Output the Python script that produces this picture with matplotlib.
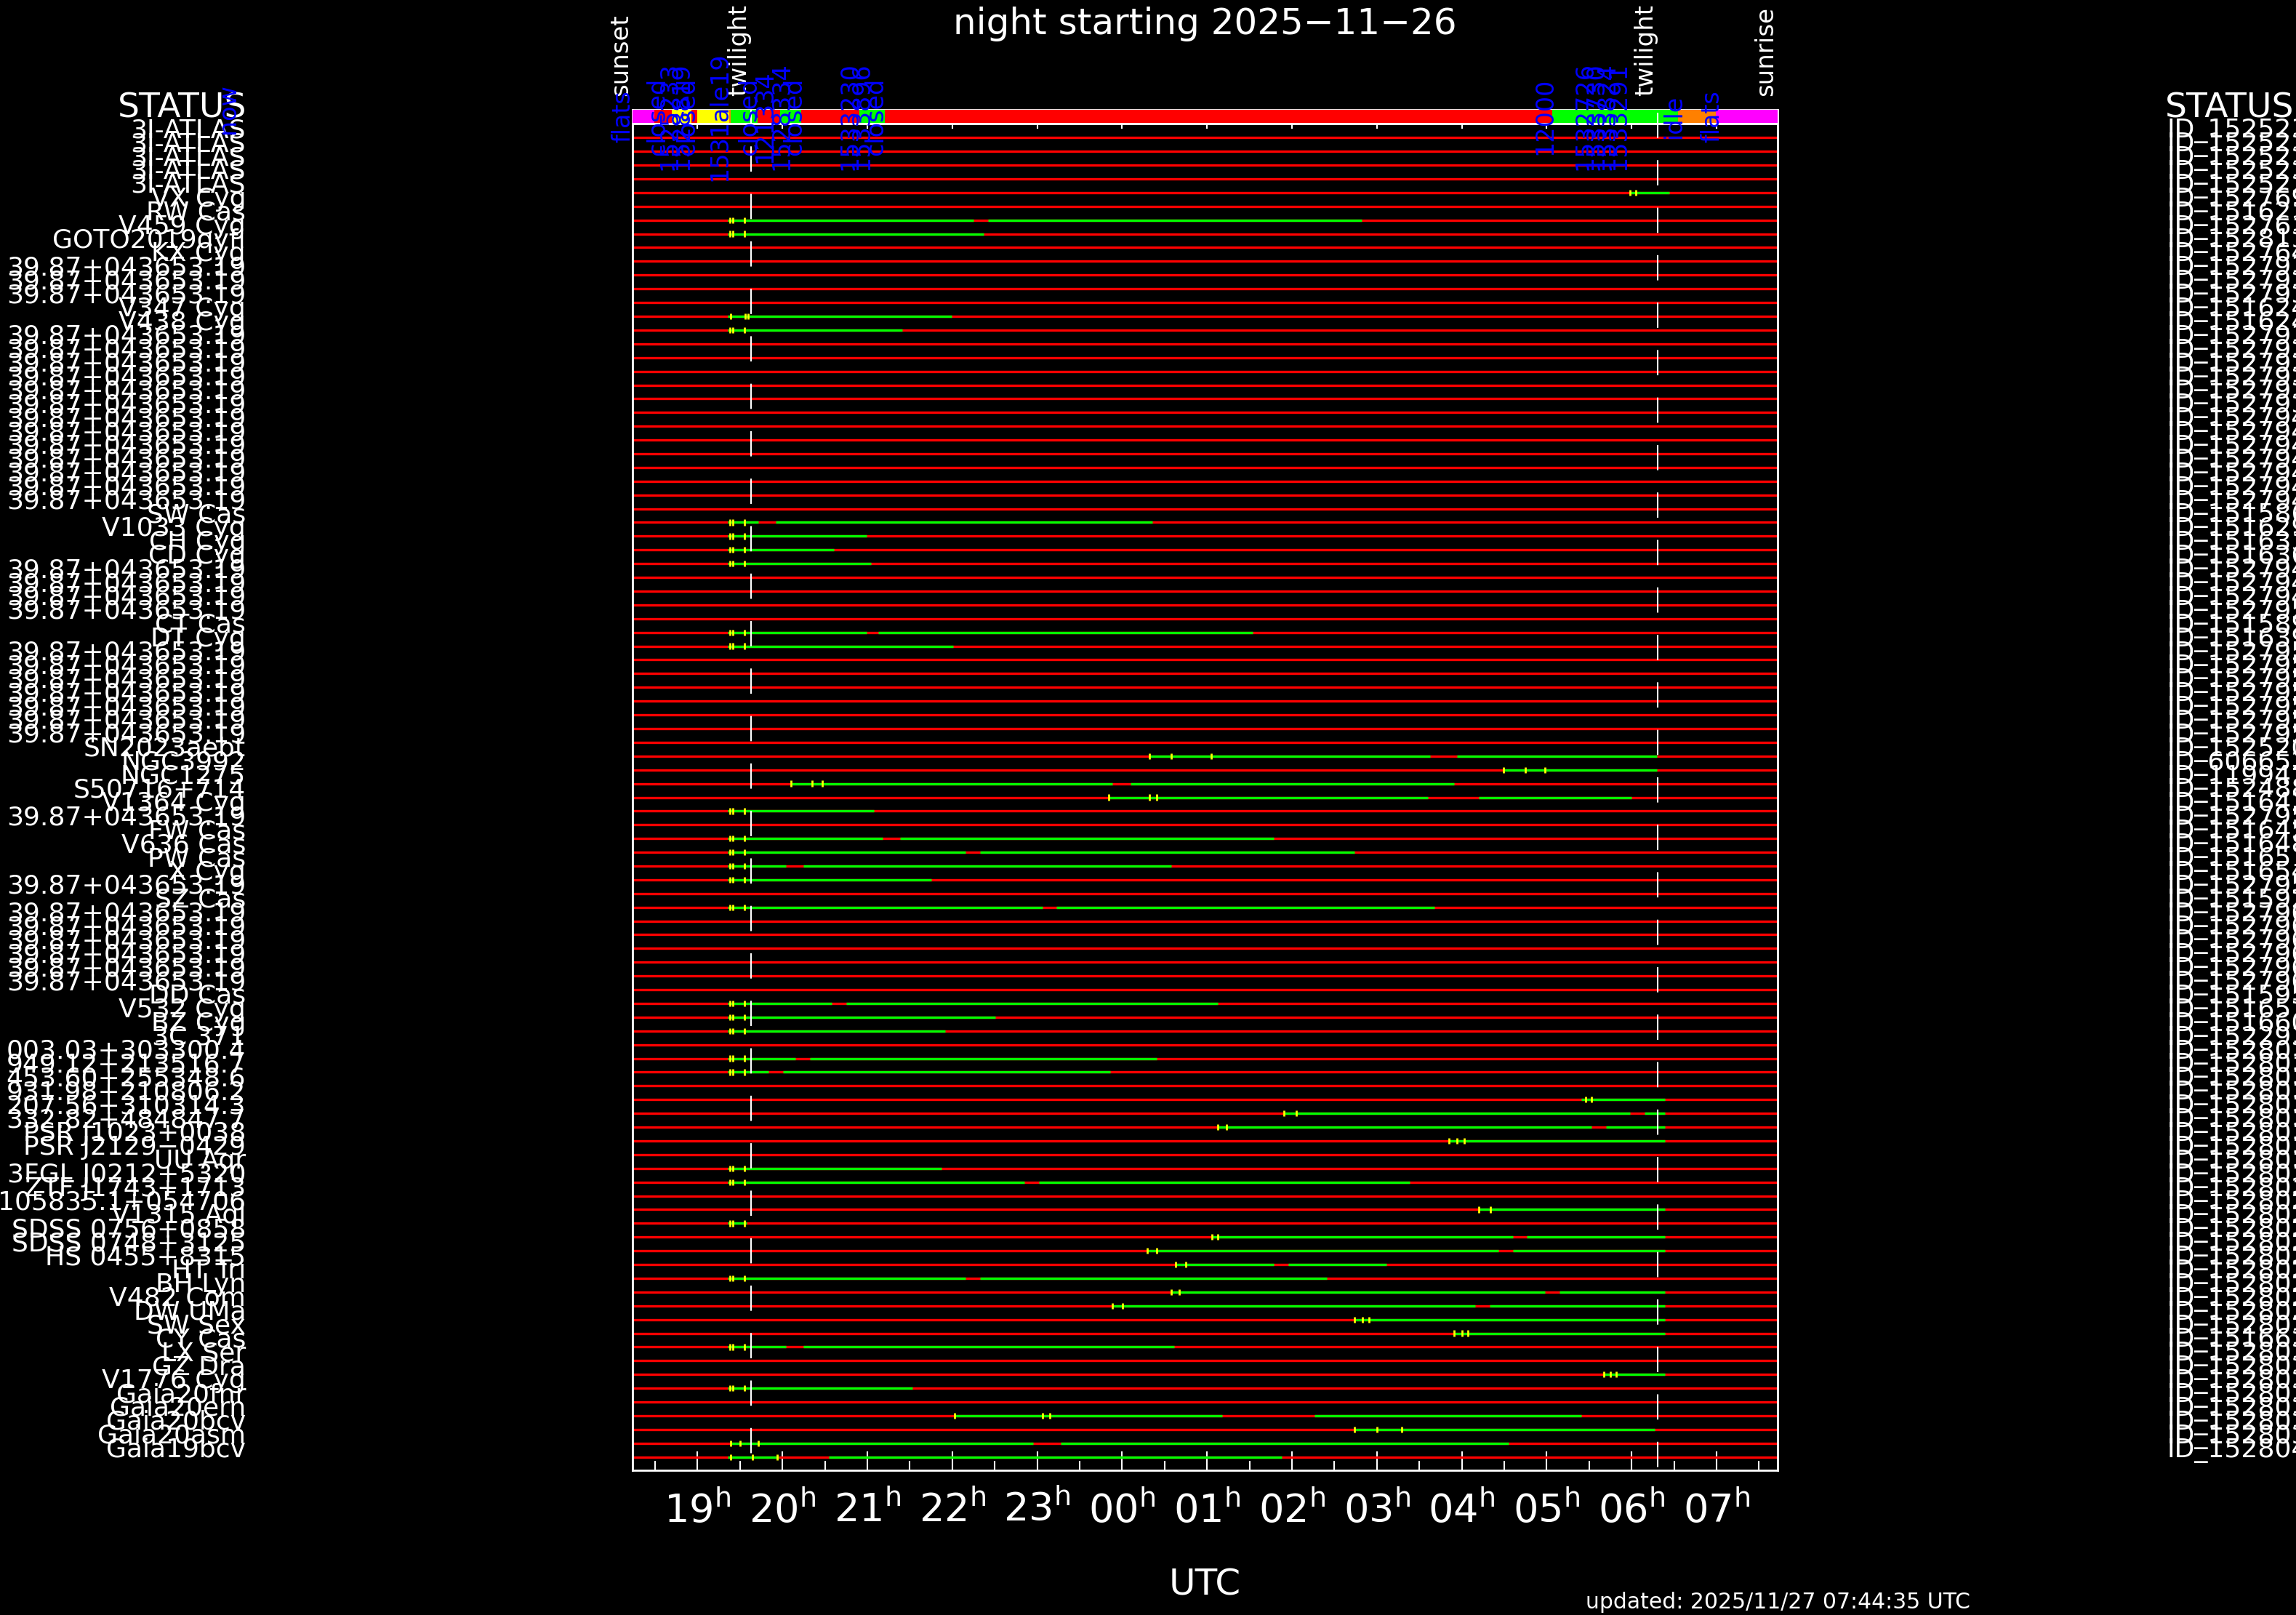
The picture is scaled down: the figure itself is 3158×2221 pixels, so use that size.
import matplotlib
matplotlib.use("Agg")
import matplotlib.pyplot as plt
import matplotlib.transforms as mtransforms

plt.rcParams['font.family'] = ['DejaVu Sans']
plt.rcParams['lines.scale_dashes'] = False
plt.rcParams['mathtext.default'] = 'regular'

# ---- night (hours UTC, values above 24 are after midnight) ----
t_sunset = 18.235
t_sunrise = 31.72
t_twilight_eve = 19.63
t_twilight_morn = 30.31
hour_ticks = [19, 20, 21, 22, 23, 24, 25, 26, 27, 28, 29, 30, 31]
hour_labels = ['19', '20', '21', '22', '23', '00', '01', '02', '03', '04', '05', '06', '07']
half_ticks = [18.5, 19.5, 20.5, 21.5, 22.5, 23.5, 24.5, 25.5, 26.5, 27.5, 28.5, 29.5, 30.5, 31.5]

# ---- telescope status bar ----
bar_start = [18.235, 18.49, 18.70, 18.93, 19.00, 19.37, 19.39, 19.71, 19.97, 20.22, 20.91, 21.21, 29.07, 30.55, 30.99]
bar_end = [18.49, 18.70, 18.93, 19.00, 19.37, 19.39, 19.71, 19.97, 20.22, 20.91, 21.21, 29.07, 30.55, 30.99, 31.72]
bar_color = ['#ff00ff', '#ff0000', '#ffff00', '#ff0000', '#ffff00', '#ff8000', '#00ff00', '#ff0000',
             '#00ff00', '#ff0000', '#00ff00', '#ff0000', '#00ff00', '#ff8000', '#ff00ff']

note_times = [18.12, 18.53, 18.67, 18.81, 18.88, 19.26, 19.61, 19.79, 19.99, 20.14,
              20.79, 20.93, 21.10, 28.98, 29.45, 29.58, 29.71, 29.84, 30.50, 30.95]
note_texts = ['flats', 'closed', '1525233', '1528819', 'closed', '1531ale19', 'closed', '121334',
              '1528334', 'closed', '1533230', '1533896', 'closed', '12000', '1532726', '1533730',
              '1533824', '1533291', 'idle', 'flats']

c39 = '39.87+043653.19'
targets = (['3I-ATLAS'] * 5 +
           ['VX Cyg', 'RW Cas', 'V459 Cyg', 'GOTO2019qyfi', 'KX Cyg'] +
           [c39] * 3 + ['V347 Cyg', 'V438 Cyg'] + [c39] * 13 +
           ['SW Cas', 'V1033 Cyg', 'CH Cyg', 'CD Cyg'] + [c39] * 4 +
           ['CT Cas', 'DT Cyg'] + [c39] * 7 +
           ['SN2023aebt', 'NGC3992', 'NGC1275', 'S50716+714', 'V1364 Cyg', c39,
            'FW Cas', 'V636 Cas', 'PW Cas', 'X Cyg', c39, 'SZ Cas'] + [c39] * 6 +
           ['DD Cas', 'V532 Cyg', 'BZ Cyg', '3C 371', '003.03+303300.4', '949.12+213516.7',
            '453.60+255348.6', '931.98+210806.2', '207.56+310314.3', '332.82+484847.7',
            'PSR J1023+0038', 'PSR J2129\u22120429', 'UU Aqr', '3FGL J0212+5320', 'ZTF J1743+1713',
            '105835.1+054706', 'V1315 Aql', 'SDSS 0756+0858', 'SDSS 0748+3125', 'HS 0455+8315',
            'HT Tri', 'BH Lyn', 'V482 Com', 'DW UMa', 'SW Sex', 'CY Cas', 'LX Ser', 'GZ Dra',
            'V1776 Cyg', 'Gaia20fnr', 'Gaia20ern', 'Gaia20bcv', 'Gaia20asm', 'Gaia19bcv'])

program_ids = [
    'ID_1525232', 'ID_1525233', 'ID_1525234', 'ID_1525235', 'ID_1525236',
    'ID_1527690', 'ID_1516210', 'ID_1527630', 'ID_1528130', 'ID_1527641',
    'ID_1527931', 'ID_1527932', 'ID_1527933', 'ID_1516240', 'ID_1516241',
    'ID_1527934', 'ID_1527935', 'ID_1527936', 'ID_1527937', 'ID_1527938',
    'ID_1527939', 'ID_1527940', 'ID_1527941', 'ID_1527942', 'ID_1527943',
    'ID_1527944', 'ID_1527945', 'ID_1527946', 'ID_1515860', 'ID_1516290',
    'ID_1516330', 'ID_1516360', 'ID_1527947', 'ID_1527948', 'ID_1527949',
    'ID_1527950', 'ID_1515890', 'ID_1516390', 'ID_1527951', 'ID_1527952',
    'ID_1527953', 'ID_1527954', 'ID_1527955', 'ID_1527956', 'ID_1527957',
    'ID_1525203', 'ID_6066524', 'ID_1199470', 'ID_1524880', 'ID_1516420',
    'ID_1527958', 'ID_1516450', 'ID_1516480', 'ID_1516510', 'ID_1516540',
    'ID_1527959', 'ID_1515920', 'ID_1527960', 'ID_1527961', 'ID_1527962',
    'ID_1527963', 'ID_1527964', 'ID_1527965', 'ID_1515950', 'ID_1516570',
    'ID_1516600', 'ID_1522930', 'ID_1528010', 'ID_1528011', 'ID_1528012',
    'ID_1528013', 'ID_1528014', 'ID_1528015', 'ID_1528016', 'ID_1528017',
    'ID_1528018', 'ID_1528019', 'ID_1528020', 'ID_1528021', 'ID_1528022',
    'ID_1528023', 'ID_1528024', 'ID_1528025', 'ID_1528026', 'ID_1528027',
    'ID_1528028', 'ID_1528029', 'ID_1528030', 'ID_1516630', 'ID_1528031',
    'ID_1528032', 'ID_1528033', 'ID_1528034', 'ID_1528035', 'ID_1528036',
    'ID_1528037', 'ID_1528042']

# observable windows (row, start, end) in hours UTC
green_windows = [
    (4, 29.98, 30.44),
    (6, 19.36, 22.25), (6, 22.42, 26.82),
    (7, 19.36, 22.37),
    (13, 19.36, 21.99),
    (14, 19.36, 21.41),
    (28, 19.36, 19.72), (28, 19.92, 24.36),
    (29, 19.36, 20.99),
    (30, 19.36, 20.61),
    (31, 19.36, 21.04),
    (36, 19.36, 20.99), (36, 21.13, 25.54),
    (37, 19.36, 22.01),
    (45, 24.32, 27.63), (45, 27.94, 30.30),
    (46, 28.49, 30.30),
    (47, 20.10, 23.89), (47, 24.10, 27.91),
    (48, 23.84, 27.60), (48, 28.20, 30.00),
    (49, 19.36, 21.08),
    (51, 19.36, 21.18), (51, 21.39, 25.79),
    (52, 19.36, 22.16), (52, 22.33, 26.74),
    (53, 19.36, 20.04), (53, 20.25, 24.58),
    (54, 19.36, 21.75),
    (56, 19.36, 23.06), (56, 23.23, 27.68),
    (63, 19.36, 20.58), (63, 20.75, 25.13),
    (64, 19.36, 22.51),
    (65, 19.36, 21.92),
    (67, 19.36, 20.15), (67, 20.32, 24.41),
    (68, 19.36, 19.84), (68, 20.01, 23.86),
    (70, 29.41, 30.39),
    (71, 25.91, 29.98), (71, 30.15, 30.39),
    (72, 25.13, 29.53), (72, 29.70, 30.39),
    (73, 27.85, 30.39),
    (75, 19.36, 21.87),
    (76, 19.36, 22.85), (76, 23.02, 27.39),
    (78, 28.20, 30.39),
    (79, 19.36, 19.58),
    (80, 25.06, 28.60), (80, 28.77, 30.39),
    (81, 24.30, 28.43), (81, 28.60, 30.39),
    (82, 24.63, 25.79), (82, 25.96, 27.11),
    (83, 19.36, 22.16), (83, 22.33, 26.41),
    (84, 24.58, 28.98), (84, 29.15, 30.39),
    (85, 23.89, 28.16), (85, 28.33, 30.39),
    (86, 26.74, 30.39),
    (87, 27.91, 30.39),
    (88, 19.36, 20.04), (88, 20.25, 24.61),
    (90, 29.67, 30.39),
    (91, 19.36, 21.53),
    (93, 22.03, 25.18), (93, 26.27, 29.41),
    (94, 26.74, 30.27),
    (95, 19.39, 22.95), (95, 23.28, 28.55),
    (96, 19.36, 19.96), (96, 20.55, 25.88),
]

# exposure marks (row, times)
early = [19.38, 19.42, 19.55]
yellow_marks = [
    (4, [29.98, 30.05]), (6, early), (7, early), (13, [19.39, 19.56, 19.60]), (14, early),
    (28, early), (29, early), (30, early), (31, early), (36, early), (37, early),
    (45, [24.32, 24.58, 25.05]), (46, [28.49, 28.75, 28.98]), (47, [20.10, 20.35, 20.47]),
    (48, [23.84, 24.32, 24.41]), (49, early), (51, early), (52, early), (53, early),
    (54, early), (56, early), (63, early), (64, early), (65, early), (67, early), (68, early),
    (70, [29.46, 29.53]), (71, [25.91, 26.05]), (72, [25.13, 25.23]), (73, [27.85, 27.94, 28.03]),
    (75, early), (76, early), (78, [28.20, 28.34]), (79, early), (80, [25.06, 25.13]),
    (81, [24.30, 24.41]), (82, [24.63, 24.75]), (83, early), (84, [24.58, 24.67]),
    (85, [23.89, 24.01]), (86, [26.74, 26.83, 26.91]), (87, [27.91, 28.00, 28.07]),
    (88, early), (90, [29.67, 29.75, 29.82]), (91, early), (93, [22.03, 23.06, 23.15]),
    (94, [26.74, 27.00, 27.29]), (95, [19.39, 19.50, 19.72]), (96, [19.39, 19.65, 19.94]),
]

W, H = 3158, 2221


def px_row(y):
    # pixel row of the figure -> row units of the plot
    return (y - 189.3) / 18.9


fig = plt.figure(figsize=(W / 100, H / 100), dpi=100, facecolor='black')
ax = fig.add_axes([870 / W, 1 - 2022 / H, (2445 - 870) / W, (2022 - 151) / H], facecolor='black')
ax.set_xlim(t_sunset, t_sunrise)
ax.set_ylim(px_row(2022), px_row(151))

rows = list(range(len(targets)))
ax.hlines(rows, t_sunset, t_sunrise, colors='#ff0000', lw=2.4, zorder=2)
for r, a, b in green_windows:
    ax.hlines(r, a, b, colors='#00ff00', lw=2.4, zorder=3)
for r, ts in yellow_marks:
    ax.vlines(ts, r - 0.22, r + 0.22, colors='#ffff00', lw=2.0, zorder=4)

# status bar
bar_h = px_row(170) - px_row(151)
for a, b, c in zip(bar_start, bar_end, bar_color):
    ax.barh(px_row(160.5), b - a, left=a, height=bar_h, color=c, zorder=5)
ax.axhline(px_row(170.5), color='white', lw=2, zorder=6)

# twilight markers
ax.plot([t_twilight_eve] * 2, [px_row(136), px_row(2022)], color='white', lw=1.5,
        dashes=(25, 22), zorder=6)
ax.plot([t_twilight_morn] * 2, [px_row(155), px_row(2022)], color='white', lw=1.5,
        dashes=(25, 22), zorder=6)

for t, txt in [(t_sunset, 'sunset'), (t_twilight_eve, 'twilight'),
               (t_twilight_morn, 'twilight'), (t_sunrise, 'sunrise')]:
    ax.text(t, px_row(132), txt, rotation=90, ha='right', va='bottom', color='white',
            fontsize=24.5, clip_on=False)

for t, txt in zip(note_times, note_texts):
    ax.text(t, px_row(160), txt, rotation=90, ha='center', va='center', color='#0000ff',
            fontsize=24, clip_on=False, zorder=10)

# axes styling
ax.set_xticks(hour_ticks)
ax.set_xticks(half_ticks, minor=True)
ax.set_xticklabels([h + '$^{h}$' for h in hour_labels])
ax.set_yticks([])
ax.tick_params(axis='x', which='both', direction='in', top=True, bottom=True,
               colors='white', labelsize=39, pad=20)
ax.tick_params(axis='x', which='major', length=19, width=1.5)
ax.tick_params(axis='x', which='minor', length=9.5, width=1.5)
for s in ax.spines.values():
    s.set_color('white')
    s.set_linewidth(2)

# row labels
trans = mtransforms.blended_transform_factory(fig.transFigure, ax.transData)
for r, name in enumerate(targets):
    ax.text(338 / W, r, name, transform=trans, ha='right', va='baseline', color='white',
            fontsize=26, clip_on=False)
for r, name in enumerate(program_ids):
    ax.text(2980 / W, r, name, transform=trans, ha='left', va='baseline', color='white',
            fontsize=26, clip_on=False)

fig.text(339 / W, 1 - 162 / H, 'STATUS', ha='right', va='baseline', color='white', fontsize=34)
fig.text(2978 / W, 1 - 162 / H, 'STATUS', ha='left', va='baseline', color='white', fontsize=34)
fig.text(314 / W, 1 - 150 / H, 'now', rotation=90, ha='center', va='center', color='#0000ff',
         fontsize=24)
fig.text(1657 / W, 1 - 47 / H, 'night starting 2025\u221211\u221226', ha='center', va='baseline',
         color='white', fontsize=36)
fig.text(1657 / W, 1 - 2193 / H, 'UTC', ha='center', va='baseline', color='white', fontsize=36)
fig.text(2181 / W, 1 - 2212 / H, 'updated: 2025/11/27 07:44:35 UTC', ha='left', va='baseline',
         color='white', fontsize=21.5)

fig.savefig('out.png', dpi=100, facecolor='black')
